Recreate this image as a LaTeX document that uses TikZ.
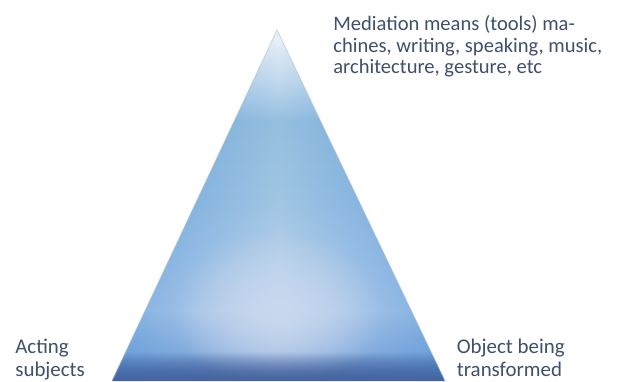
\documentclass[tikz,border=0pt]{standalone}
\usepackage{fontspec}
\setmainfont{Carlito}
\usetikzlibrary{fadings, positioning}
\definecolor{labeltext}{RGB}{62,80,108}
\definecolor{pyrapex}{RGB}{240,245,250}
\definecolor{pyrhigh}{RGB}{196,218,238}
\definecolor{pyrband}{RGB}{150,191,223}
\definecolor{pyrmid}{RGB}{162,198,228}
\definecolor{pyrglow}{RGB}{200,216,238}
\definecolor{pyrlow}{RGB}{160,186,224}
\definecolor{pyrbase}{RGB}{70,100,160}
\definecolor{edgeblue}{RGB}{62,138,214}
\definecolor{pyrrim}{RGB}{176,192,210}
\pgfdeclareverticalshading{pyramidfill}{100bp}{color(0bp)=(pyrbase); color(25bp)=(pyrbase);
  color(29bp)=(pyrlow); color(35bp)=(pyrglow);
  color(50bp)=(pyrmid); color(62bp)=(pyrband); color(68bp)=(pyrhigh);
  color(75bp)=(pyrapex); color(100bp)=(pyrapex)}
\tikzfading[name=sidefade, left color=transparent!0, right color=transparent!0, middle color=transparent!100]
\tikzfading[name=glowfade, inner color=transparent!0, outer color=transparent!100]
\tikzset{label/.style={inner sep=0pt, text=labeltext, align=left, anchor=north west,
  font=\fontsize{11.7pt}{12.3pt}\selectfont},
  corner label/.style={label, font=\fontsize{11.9pt}{13.2pt}\selectfont}}

\begin{document}
\begin{tikzpicture}
	\useasboundingbox (0,0) rectangle (12.42,7.62);
	\coordinate (apex) at (5.54,7.02);
	\coordinate (bl) at (2.24,0);
	\coordinate (br) at (8.90,0);
	% pyramid body
	\begin{scope}
		\clip (bl) -- (apex) -- (br) -- cycle;
		\shade[shading=pyramidfill] (bl) rectangle (8.90,7.02);
		\fill[edgeblue, opacity=0.55, path fading=sidefade] (bl) rectangle (8.90,7.02);
		\fill[pyrglow, path fading=glowfade] (5.56,1.4) ellipse (2.1cm and 1.6cm);
		\fill[pyrbase, path fading=north] (bl) rectangle (8.90,0.6);
	\end{scope}
	\draw[pyrrim, opacity=0.5, line width=0.6pt] (bl) -- (apex) -- (br);

	\node[label] (tools) at (6.66,7.32)
		{Mediation means (tools) ma-\\chines, writing, speaking, music,\\architecture, gesture, etc};
	\node[corner label] (subj) at (0.30,0.85) {Acting\\subjects};
	\node[corner label] (obj) at (9.13,0.85) {Object being\\transformed};
\end{tikzpicture}
\end{document}
